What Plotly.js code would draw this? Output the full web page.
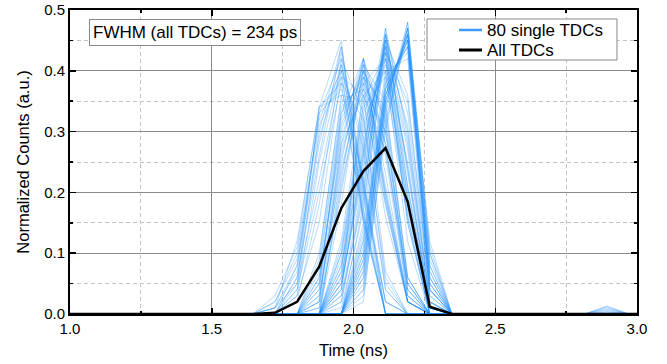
<!DOCTYPE html>
<html>
<head>
<meta charset="utf-8">
<script src="https://cdn.plot.ly/plotly-3.0.1.min.js"></script>
<style>html,body{margin:0;padding:0;background:#fff;}#chart{width:667px;height:364px;}</style>
</head>
<body>
<div id="chart"></div>
<script>
// Time bins (ns)
const timeNs = [0.943, 1.021, 1.099, 1.177, 1.255, 1.333, 1.411, 1.489, 1.567, 1.645,
  1.723, 1.801, 1.879, 1.957, 2.035, 2.113, 2.191, 2.269, 2.347,
  2.425, 2.503, 2.581, 2.659, 2.737, 2.815, 2.893, 2.971];
const allTimeNs = [0.943, 1.021, 1.099, 1.177, 1.255, 1.333, 1.411, 1.489, 1.567, 1.645,
  1.723, 1.801, 1.879, 1.957, 2.035, 2.113, 2.191, 2.269, 2.347,
  2.425, 2.503, 2.581, 2.659, 2.737, 2.815, 2.893, 2.971, 3.049];

// Combined histogram of all TDCs (normalized counts)
const allTDCs = [0, 0, 0, 0, 0, 0, 0, 0, 0, 0,
  0.002, 0.020, 0.078, 0.174, 0.235, 0.273, 0.185, 0.012, 0,
  0, 0, 0, 0, 0, 0, 0, 0, 0];

// Single-TDC histograms: values in the active window 1.723 ... 2.347 ns (zero elsewhere)
const windowStartNs = 1.723;
const singleTDCs = [
  [0.01,0.05,0.34,0.45,0.15,0,0,0,0],
  [0.00,0.08,0.33,0.42,0.17,0,0,0,0],
  [0.02,0.10,0.32,0.40,0.16,0,0,0,0],
  [0.00,0.04,0.30,0.44,0.20,0.02,0,0,0],
  [0.01,0.12,0.34,0.38,0.15,0,0,0,0],
  [0.00,0.06,0.28,0.43,0.21,0.02,0,0,0],
  [0.00,0.03,0.25,0.41,0.27,0.04,0,0,0],
  [0.02,0.09,0.31,0.39,0.19,0,0,0,0],
  [0.00,0.05,0.22,0.40,0.29,0.04,0,0,0],
  [0.01,0.07,0.33,0.37,0.22,0,0,0,0],
  [0.00,0.02,0.18,0.42,0.33,0.05,0,0,0],
  [0.03,0.11,0.34,0.36,0.16,0,0,0,0],
  [0.00,0.04,0.20,0.38,0.32,0.06,0,0,0],
  [0.01,0.08,0.29,0.41,0.21,0,0,0,0],
  [0.00,0.03,0.15,0.39,0.36,0.07,0,0,0],
  [0.00,0.06,0.26,0.44,0.22,0.02,0,0,0],
  [0,0,0.02,0.28,0.41,0.26,0.03,0,0],
  [0,0,0.05,0.32,0.40,0.20,0.03,0,0],
  [0,0,0.00,0.22,0.42,0.31,0.05,0,0],
  [0,0,0.08,0.34,0.38,0.18,0.02,0,0],
  [0,0,0.03,0.26,0.39,0.28,0.04,0,0],
  [0,0,0.10,0.35,0.37,0.16,0.02,0,0],
  [0,0,0.01,0.20,0.40,0.33,0.06,0,0],
  [0,0,0.06,0.30,0.42,0.20,0.02,0,0],
  [0,0,0.04,0.28,0.36,0.27,0.05,0,0],
  [0,0,0.00,0.18,0.41,0.35,0.06,0,0],
  [0,0,0.07,0.33,0.39,0.19,0.02,0,0],
  [0,0,0.02,0.25,0.42,0.28,0.03,0,0],
  [0,0,0.09,0.36,0.35,0.18,0.02,0,0],
  [0,0,0.03,0.24,0.38,0.30,0.05,0,0],
  [0,0,0.05,0.31,0.41,0.21,0.02,0,0],
  [0,0,0.00,0.21,0.39,0.34,0.06,0,0],
  [0,0,0.06,0.29,0.40,0.23,0.02,0,0],
  [0,0,0.02,0.27,0.37,0.30,0.04,0,0],
  [0,0,0.04,0.33,0.42,0.19,0.02,0,0],
  [0,0,0.01,0.23,0.40,0.32,0.04,0,0],
  [0,0,0,0.05,0.25,0.45,0.24,0.01,0],
  [0,0,0,0.08,0.30,0.44,0.17,0.01,0],
  [0,0,0,0.02,0.20,0.46,0.30,0.02,0],
  [0,0,0,0.10,0.33,0.42,0.15,0,0],
  [0,0,0,0.04,0.27,0.47,0.21,0.01,0],
  [0,0,0,0.00,0.18,0.43,0.35,0.04,0],
  [0,0,0,0.12,0.36,0.40,0.12,0,0],
  [0,0,0,0.06,0.28,0.44,0.21,0.01,0],
  [0,0,0,0.03,0.22,0.45,0.28,0.02,0],
  [0,0,0,0.09,0.31,0.41,0.19,0,0],
  [0,0,0,0.01,0.17,0.46,0.33,0.03,0],
  [0,0,0,0.07,0.29,0.43,0.20,0.01,0],
  [0,0,0,0.05,0.24,0.46,0.24,0.01,0],
  [0,0,0,0.11,0.34,0.39,0.16,0,0],
  [0,0,0,0.02,0.21,0.44,0.31,0.02,0],
  [0,0,0,0.06,0.26,0.42,0.25,0.01,0],
  [0,0,0,0.04,0.38,0.42,0.16,0,0],
  [0,0,0,0.08,0.27,0.45,0.19,0.01,0],
  [0,0,0,0.03,0.19,0.47,0.29,0.02,0],
  [0,0,0,0.10,0.32,0.40,0.18,0,0],
  [0,0,0,0.05,0.23,0.44,0.27,0.01,0],
  [0,0,0,0.00,0.15,0.45,0.36,0.04,0],
  [0,0,0,0.07,0.35,0.43,0.15,0,0],
  [0,0,0,0.04,0.26,0.46,0.23,0.01,0],
  [0,0,0,0,0.08,0.36,0.46,0.06,0],
  [0,0,0,0,0.12,0.38,0.44,0.04,0],
  [0,0,0,0,0.04,0.34,0.48,0.10,0],
  [0,0,0,0,0.10,0.37,0.45,0.05,0],
  [0,0,0,0,0.06,0.35,0.47,0.08,0],
  [0,0,0,0,0.14,0.40,0.42,0.02,0],
  [0,0,0,0,0.02,0.32,0.46,0.12,0],
  [0,0,0,0,0.09,0.36,0.45,0.06,0],
  [0,0,0,0,0.05,0.33,0.47,0.09,0],
  [0,0,0,0,0.11,0.39,0.43,0.03,0],
  [0,0,0,0,0.07,0.36,0.46,0.07,0],
  [0,0,0,0,0.13,0.37,0.44,0.04,0],
  [0,0,0,0,0.03,0.30,0.48,0.11,0],
  [0,0,0,0,0.08,0.35,0.46,0.06,0],
  [0,0,0,0,0.10,0.38,0.44,0.05,0],
  [0,0,0,0,0.06,0.34,0.47,0.08,0],
  [0,0,0,0,0.12,0.36,0.45,0.04,0],
  [0,0,0,0,0.04,0.31,0.47,0.10,0],
  [0,0,0,0,0.09,0.37,0.45,0.05,0],
  [0,0,0,0,0.07,0.35,0.46,0.07,0]
];
// Small late bump near 2.893 ns seen in a few TDCs
const bumpTimeNs = 2.893;
const bumpTDC = [4, 13, 27, 41, 58, 66, 73];
const bumpVal = [0.013, 0.010, 0.008, 0.006, 0.004, 0.012, 0.003];

const legendSingle = '80 single TDCs';
const legendAll = 'All TDCs';
const fwhmText = 'FWHM (all TDCs) = 234 ps';

const FONT = 'Liberation Sans, Arial, Helvetica, sans-serif';
const BLUE_LEG = '#3d9bff';
const startIdx = timeNs.indexOf(windowStartNs);
const bumpIdx = timeNs.indexOf(bumpTimeNs);

const traces = [];
singleTDCs.forEach((row, k) => {
  const y = timeNs.map((t, i) => (i >= startIdx && i < startIdx + row.length) ? row[i - startIdx] : 0);
  const b = bumpTDC.indexOf(k);
  if (b >= 0) y[bumpIdx] = bumpVal[b];
  traces.push({
    x: timeNs, y: y, type: 'scatter', mode: 'lines', name: legendSingle,
    line: {color: 'rgba(30,144,255,0.32)', width: 1},
    showlegend: false, hoverinfo: 'skip'
  });
});
traces.push({x: allTimeNs, y: allTDCs, type: 'scatter', mode: 'lines', name: legendAll,
  line: {color: '#000000', width: 2.5}, showlegend: false});

const axisCommon = {
  showline: true, linecolor: '#000', linewidth: 2, mirror: 'ticks',
  ticks: 'inside', ticklen: 6, tickwidth: 1.5, tickcolor: '#000',
  showgrid: true, gridcolor: '#8a8a8a', gridwidth: 1, zeroline: false,
  tickfont: {family: FONT, size: 15, color: '#000'},
};

// legend box placement (paper fractions)
const lg = {x0: 0.6296, x1: 0.9647, y0: 0.8355, y1: 0.9704,
  lx0: 0.6861, lx1: 0.7266, tx: 0.7319, r1: 0.9342, r2: 0.8684};

const layout = {
  width: 667, height: 364,
  margin: {l: 70, r: 30, t: 10, b: 50, pad: 0},
  paper_bgcolor: '#fff', plot_bgcolor: '#fff',
  font: {family: FONT, color: '#000'},
  showlegend: false,
  xaxis: Object.assign({}, axisCommon, {
    range: [1.0, 3.0], tick0: 1.0, dtick: 0.5, tickformat: '.1f',
    title: {text: 'Time (ns)', font: {family: FONT, size: 16.5, color: '#000'}, standoff: 8},
    minor: {dtick: 0.25, ticks: 'inside', ticklen: 3, tickcolor: '#000', showgrid: true,
      gridcolor: '#c2c2c2', griddash: '4px,3px', gridwidth: 1}
  }),
  yaxis: Object.assign({}, axisCommon, {
    range: [0, 0.5], tick0: 0, dtick: 0.1, tickformat: '.1f',
    title: {text: 'Normalized Counts (a.u.)', font: {family: FONT, size: 16.5, color: '#000'}, standoff: 10},
    minor: {dtick: 0.05, ticks: 'inside', ticklen: 3, tickcolor: '#000', showgrid: true,
      gridcolor: '#c2c2c2', griddash: '4px,3px', gridwidth: 1}
  }),
  shapes: [
    {type: 'rect', xref: 'paper', yref: 'paper', x0: lg.x0, x1: lg.x1, y0: lg.y0, y1: lg.y1,
      fillcolor: '#fff', line: {color: '#888', width: 1}, layer: 'above'},
    {type: 'line', xref: 'paper', yref: 'paper', x0: lg.lx0, x1: lg.lx1, y0: lg.r1, y1: lg.r1,
      line: {color: BLUE_LEG, width: 2.5}, layer: 'above'},
    {type: 'line', xref: 'paper', yref: 'paper', x0: lg.lx0, x1: lg.lx1, y0: lg.r2, y1: lg.r2,
      line: {color: '#000', width: 3}, layer: 'above'}
  ],
  annotations: [
    {xref: 'paper', yref: 'paper', x: 0.2213, y: 0.9276, xanchor: 'center', yanchor: 'middle',
      text: fwhmText, showarrow: false, bgcolor: '#fff', bordercolor: '#888', borderwidth: 1, borderpad: 3,
      font: {family: FONT, size: 17, color: '#000'}},
    {xref: 'paper', yref: 'paper', x: lg.tx, y: lg.r1, xanchor: 'left', yanchor: 'middle',
      text: legendSingle, showarrow: false, font: {family: FONT, size: 17, color: '#000'}},
    {xref: 'paper', yref: 'paper', x: lg.tx, y: lg.r2, xanchor: 'left', yanchor: 'middle',
      text: legendAll, showarrow: false, font: {family: FONT, size: 17, color: '#000'}}
  ]
};

Plotly.newPlot('chart', traces, layout, {displayModeBar: false, staticPlot: true});
</script>
</body>
</html>
